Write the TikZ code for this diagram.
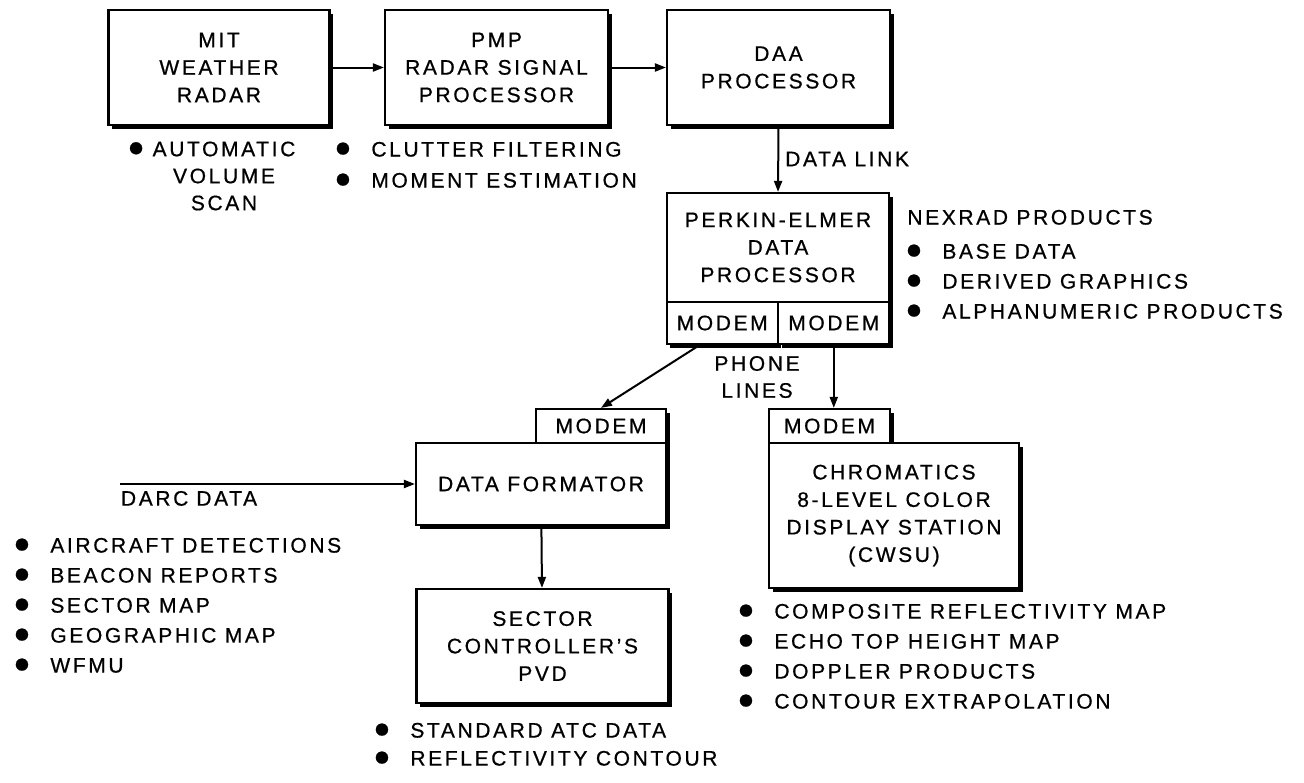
\documentclass[tikz,border=0pt]{standalone}
\usepackage{fontspec}
\setmainfont[LetterSpace=12.5,FakeBold=0.7]{Liberation Sans}
\usetikzlibrary{arrows.meta,positioning,calc,shadows}

\newcommand{\dotmark}{\scalebox{1.35}{●}}
\newcommand{\blt}{\makebox[18.5pt][l]{\dotmark}}

\begin{document}
\begin{tikzpicture}[x=0.5pt, y=-0.5pt,
    box/.style={rectangle, draw, line width=1.1pt, fill=white, inner sep=0pt,
                align=center, font=\fontsize{10.5}{13.75}\selectfont,
                drop shadow={shadow xshift=1.8pt, shadow yshift=-1.8pt, fill=black, opacity=1}},
    modem/.style={box, drop shadow={shadow xshift=0.6pt, shadow yshift=-0.6pt, fill=black, opacity=1}},
    list/.style={anchor=north west, inner sep=0pt, align=left,
                 font=\fontsize{10.5}{15}\selectfont},
    lbl/.style={inner sep=0pt, align=center, font=\fontsize{10.5}{13.5}\selectfont},
    arrow/.style={-{Triangle[length=5.5pt,width=4pt]}, line width=1pt},
  ]
    \useasboundingbox (0,0) rectangle (1304,782);

    % top row
    \node[box, minimum width=110.5pt, minimum height=57.5pt] (mit) at (219,67.5) {MIT\\WEATHER\\RADAR};
    \node[box, minimum width=111.5pt, minimum height=57.5pt] (pmp) at (496.5,67.5) {PMP\\RADAR SIGNAL\\PROCESSOR};
    \node[box, minimum width=111.5pt, minimum height=57.5pt] (daa) at (778.5,67.5) {DAA\\PROCESSOR};

    \node[lbl, font=\fontsize{10.5}{13.5}\selectfont] (mitnote) at (224,176) {\llap{\dotmark\hspace{4pt}}AUTOMATIC\\VOLUME\\SCAN};
    \node[list, font=\fontsize{10.5}{15.5}\selectfont] (pmpnote) at (334,141.5) {\blt CLUTTER FILTERING\\\blt MOMENT ESTIMATION};

    % perkin-elmer with its two modems
    \node[box, minimum width=111.25pt, minimum height=54.5pt] (pe) at (778,247.5) {PERKIN-ELMER\\DATA\\PROCESSOR};
    \node[box, minimum width=55.6pt, minimum height=21pt] (pem1) at (722.2,323) {MODEM};
    \node[box, minimum width=55.6pt, minimum height=21pt] (pem2) at (833.8,323) {MODEM};

    \node[list] (nexrad) at (907,209.5) {NEXRAD PRODUCTS};
    \node[list] (nexnote) at (905,243.5) {\blt BASE DATA\\\blt DERIVED GRAPHICS\\\blt ALPHANUMERIC PRODUCTS};
    \node[lbl] (phone) at (757,377) {PHONE\\LINES};

    % formator branch
    \node[modem, minimum width=65pt, minimum height=17pt] (dfm) at (601,426) {MODEM};
    \node[box, minimum width=125pt, minimum height=41pt] (df) at (541,484) {DATA FORMATOR};
    \node[box, minimum width=126pt, minimum height=57pt] (pvd) at (542.5,646) {SECTOR\\CONTROLLER'S\\PVD};
    \coordinate (darc) at (120,484);

    \node[list] (darcnote) at (13,537.5) {\blt AIRCRAFT DETECTIONS\\\blt BEACON REPORTS\\\blt SECTOR MAP\\\blt GEOGRAPHIC MAP\\\blt WFMU};
    \node[list, font=\fontsize{10.5}{14}\selectfont] (pvdnote) at (373,722.5) {\blt STANDARD ATC DATA\\\blt REFLECTIVITY CONTOUR};

    % display branch
    \node[modem, minimum width=60.5pt, minimum height=17pt] (cwm) at (829.5,426) {MODEM};
    \node[box, minimum width=125pt, minimum height=72.5pt] (chr) at (894,515.5) {CHROMATICS\\8-LEVEL COLOR\\DISPLAY STATION\\(CWSU)};
    \node[list] (chrnote) at (737,603.5) {\blt COMPOSITE REFLECTIVITY MAP\\\blt ECHO TOP HEIGHT MAP\\\blt DOPPLER PRODUCTS\\\blt CONTOUR EXTRAPOLATION};

    \draw[arrow] (mit) -- (pmp);
    \draw[arrow] (pmp) -- (daa);
    \draw[arrow] (daa.south) -- node[lbl, right=3pt] {DATA LINK} (pe.north);
    \draw[arrow] ($(pem1.south west)!0.3!(pem1.south east)$) -- (dfm.north);
    \draw[arrow] (pem2.south) -- (pem2.south |- cwm.north);
    \draw[arrow] (darc) -- node[pos=0, lbl, below right=3pt and 0pt] {DARC\hspace{4pt}DATA} (df.west);
    \draw[arrow] (df) -- (pvd);
  \end{tikzpicture}
\end{document}
